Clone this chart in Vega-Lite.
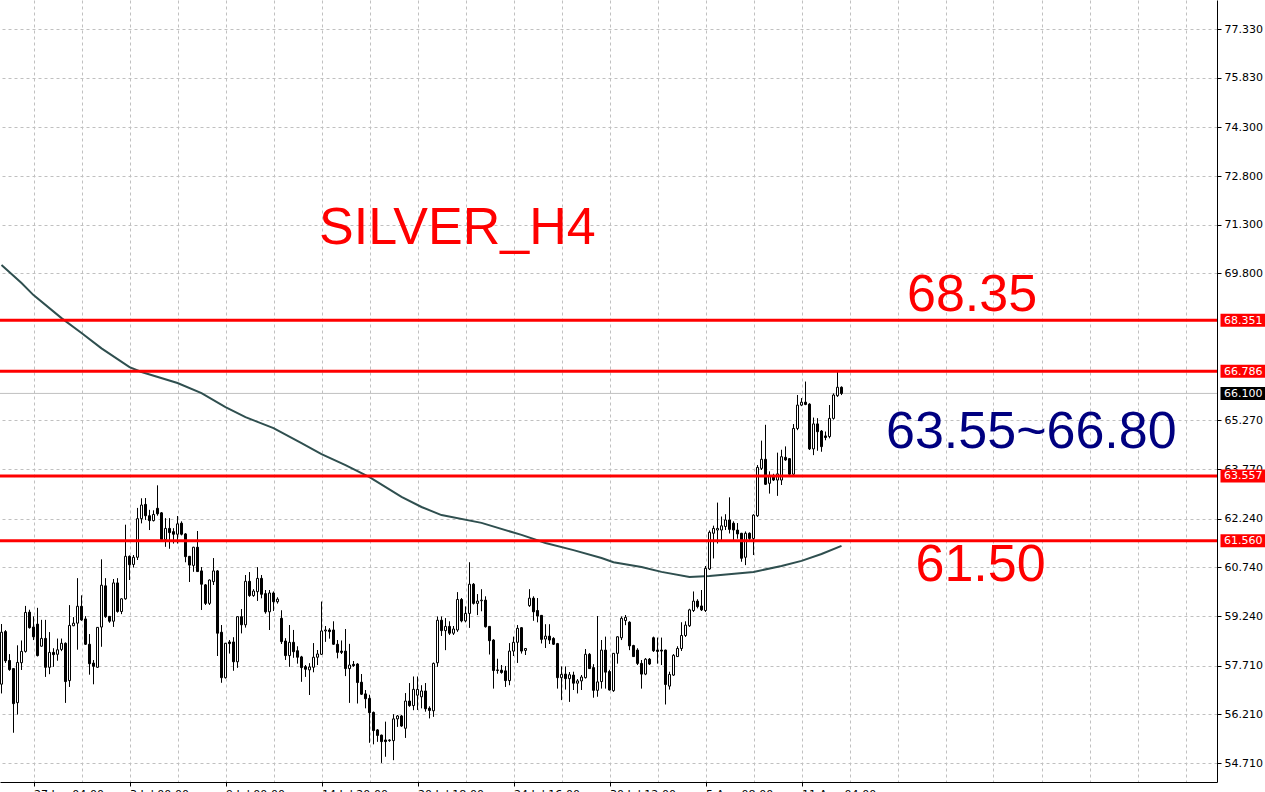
{
  "$schema": "https://vega.github.io/schema/vega-lite/v6.json",
  "width": 1217,
  "height": 782,
  "autosize": {"type": "none"},
  "padding": {"left": 0, "top": 0, "right": 48, "bottom": 10},
  "background": "#ffffff",
  "config": {"view": {"stroke": null}},
  "datasets": {
    "candles": [
      {"i":1,"open":57.14,"high":58.99,"low":56.86,"close":58.74},
      {"i":2,"open":58.76,"high":58.80,"low":57.80,"close":57.86},
      {"i":3,"open":57.87,"high":58.06,"low":57.56,"close":57.59},
      {"i":4,"open":57.62,"high":57.62,"low":55.65,"close":56.54},
      {"i":5,"open":56.57,"high":58.33,"low":56.21,"close":57.81},
      {"i":6,"open":57.80,"high":58.48,"low":57.58,"close":58.15},
      {"i":7,"open":58.15,"high":59.55,"low":58.12,"close":59.35},
      {"i":8,"open":59.36,"high":59.43,"low":58.86,"close":58.88},
      {"i":9,"open":58.90,"high":59.22,"low":58.50,"close":58.60},
      {"i":10,"open":58.99,"high":59.49,"low":58.00,"close":58.02},
      {"i":11,"open":58.31,"high":59.12,"low":58.30,"close":58.55},
      {"i":12,"open":58.55,"high":59.12,"low":57.37,"close":57.66},
      {"i":13,"open":57.66,"high":58.74,"low":57.45,"close":58.12},
      {"i":14,"open":58.12,"high":58.24,"low":57.68,"close":58.05},
      {"i":15,"open":58.06,"high":58.54,"low":57.87,"close":58.20},
      {"i":16,"open":58.21,"high":58.54,"low":58.16,"close":58.40},
      {"i":17,"open":58.40,"high":58.42,"low":56.57,"close":57.22},
      {"i":18,"open":57.25,"high":59.57,"low":57.06,"close":58.95},
      {"i":19,"open":58.94,"high":59.20,"low":58.93,"close":59.02},
      {"i":20,"open":59.02,"high":60.40,"low":58.21,"close":59.54},
      {"i":21,"open":59.54,"high":59.87,"low":59.10,"close":59.12},
      {"i":22,"open":59.15,"high":59.23,"low":58.35,"close":58.37},
      {"i":23,"open":58.37,"high":58.68,"low":57.44,"close":57.77},
      {"i":24,"open":57.79,"high":57.88,"low":57.14,"close":57.69},
      {"i":25,"open":57.66,"high":58.90,"low":57.65,"close":58.89},
      {"i":26,"open":58.90,"high":60.98,"low":58.30,"close":60.19},
      {"i":27,"open":60.17,"high":60.40,"low":59.19,"close":59.22},
      {"i":28,"open":59.23,"high":59.24,"low":59.04,"close":59.08},
      {"i":29,"open":59.08,"high":60.38,"low":58.91,"close":60.26},
      {"i":30,"open":60.26,"high":60.40,"low":59.35,"close":59.38},
      {"i":31,"open":59.38,"high":59.78,"low":59.30,"close":59.77},
      {"i":32,"open":59.77,"high":62.05,"low":59.75,"close":61.08},
      {"i":33,"open":61.08,"high":61.10,"low":60.35,"close":60.82},
      {"i":34,"open":60.83,"high":61.12,"low":60.74,"close":61.05},
      {"i":35,"open":61.05,"high":62.57,"low":60.97,"close":62.24},
      {"i":36,"open":62.24,"high":62.86,"low":62.10,"close":62.66},
      {"i":37,"open":62.68,"high":62.87,"low":62.20,"close":62.33},
      {"i":38,"open":62.33,"high":62.51,"low":61.89,"close":62.18},
      {"i":39,"open":62.18,"high":62.49,"low":62.16,"close":62.37},
      {"i":40,"open":62.56,"high":63.26,"low":62.34,"close":62.39},
      {"i":41,"open":62.42,"high":62.44,"low":61.58,"close":61.60},
      {"i":42,"open":61.60,"high":62.25,"low":61.38,"close":61.94},
      {"i":43,"open":61.94,"high":62.25,"low":61.32,"close":61.81},
      {"i":44,"open":61.84,"high":61.94,"low":61.48,"close":61.76},
      {"i":45,"open":61.76,"high":62.32,"low":61.48,"close":62.08},
      {"i":46,"open":62.10,"high":62.15,"low":61.73,"close":61.76},
      {"i":47,"open":61.77,"high":61.79,"low":60.90,"close":61.07},
      {"i":48,"open":61.08,"high":61.09,"low":60.29,"close":60.81},
      {"i":49,"open":60.80,"high":61.37,"low":60.61,"close":61.36},
      {"i":50,"open":61.36,"high":61.86,"low":60.60,"close":60.61},
      {"i":51,"open":60.63,"high":60.75,"low":59.43,"close":60.22},
      {"i":52,"open":60.20,"high":60.22,"low":59.58,"close":59.63},
      {"i":53,"open":59.63,"high":60.36,"low":59.58,"close":60.35},
      {"i":54,"open":60.30,"high":61.02,"low":60.20,"close":60.63},
      {"i":55,"open":60.63,"high":60.65,"low":58.01,"close":58.71},
      {"i":56,"open":58.74,"high":58.96,"low":57.19,"close":57.34},
      {"i":57,"open":57.34,"high":58.41,"low":57.32,"close":58.40},
      {"i":58,"open":58.44,"high":58.50,"low":58.09,"close":58.39},
      {"i":59,"open":58.44,"high":58.58,"low":57.56,"close":57.83},
      {"i":60,"open":57.83,"high":59.23,"low":57.65,"close":59.22},
      {"i":61,"open":59.22,"high":59.45,"low":58.71,"close":58.97},
      {"i":62,"open":58.97,"high":60.50,"low":58.89,"close":60.31},
      {"i":63,"open":60.31,"high":60.59,"low":59.84,"close":59.87},
      {"i":64,"open":59.87,"high":60.06,"low":59.84,"close":60.01},
      {"i":65,"open":59.99,"high":60.74,"low":59.71,"close":60.40},
      {"i":66,"open":60.40,"high":60.50,"low":59.79,"close":59.91},
      {"i":67,"open":59.93,"high":60.04,"low":59.32,"close":59.37},
      {"i":68,"open":59.37,"high":60.04,"low":58.81,"close":59.95},
      {"i":69,"open":59.95,"high":59.99,"low":59.40,"close":59.68},
      {"i":70,"open":59.68,"high":59.81,"low":59.63,"close":59.76},
      {"i":71,"open":59.17,"high":59.41,"low":58.38,"close":58.45},
      {"i":72,"open":58.47,"high":58.55,"low":57.89,"close":58.02},
      {"i":73,"open":58.02,"high":58.96,"low":57.68,"close":58.43},
      {"i":74,"open":58.43,"high":58.81,"low":57.96,"close":58.14},
      {"i":75,"open":58.17,"high":58.30,"low":57.78,"close":57.97},
      {"i":76,"open":57.98,"high":58.01,"low":57.22,"close":57.65},
      {"i":77,"open":57.68,"high":57.73,"low":57.37,"close":57.60},
      {"i":78,"open":57.58,"high":57.78,"low":56.81,"close":57.67},
      {"i":79,"open":57.66,"high":58.40,"low":57.51,"close":57.97},
      {"i":80,"open":57.97,"high":58.19,"low":57.73,"close":58.07},
      {"i":81,"open":58.06,"high":59.68,"low":58.04,"close":58.78},
      {"i":82,"open":58.78,"high":58.93,"low":58.45,"close":58.81},
      {"i":83,"open":58.81,"high":58.86,"low":58.55,"close":58.76},
      {"i":84,"open":58.81,"high":59.07,"low":58.36,"close":58.37},
      {"i":85,"open":58.37,"high":58.50,"low":57.94,"close":58.12},
      {"i":86,"open":58.16,"high":58.48,"low":58.07,"close":58.12},
      {"i":87,"open":58.16,"high":58.84,"low":57.39,"close":57.62},
      {"i":88,"open":57.62,"high":58.38,"low":56.57,"close":57.73},
      {"i":89,"open":57.75,"high":57.85,"low":57.68,"close":57.71},
      {"i":90,"open":57.76,"high":57.78,"low":56.55,"close":57.19},
      {"i":91,"open":57.20,"high":57.45,"low":56.81,"close":56.83},
      {"i":92,"open":56.84,"high":56.96,"low":56.40,"close":56.69},
      {"i":93,"open":56.70,"high":56.81,"low":55.34,"close":56.26},
      {"i":94,"open":56.27,"high":56.29,"low":55.29,"close":55.71},
      {"i":95,"open":55.73,"high":55.75,"low":55.37,"close":55.56},
      {"i":96,"open":55.57,"high":55.58,"low":54.72,"close":55.37},
      {"i":97,"open":55.42,"high":55.98,"low":54.91,"close":55.37},
      {"i":98,"open":55.40,"high":55.43,"low":55.37,"close":55.42},
      {"i":99,"open":55.40,"high":56.21,"low":54.80,"close":56.07},
      {"i":100,"open":56.07,"high":56.19,"low":55.83,"close":56.16},
      {"i":101,"open":56.16,"high":56.19,"low":55.83,"close":55.85},
      {"i":102,"open":55.78,"high":56.86,"low":55.49,"close":56.62},
      {"i":103,"open":56.62,"high":57.17,"low":56.45,"close":56.48},
      {"i":104,"open":56.48,"high":57.37,"low":56.34,"close":56.98},
      {"i":105,"open":56.80,"high":57.37,"low":56.35,"close":56.98},
      {"i":106,"open":56.75,"high":57.10,"low":56.40,"close":56.93},
      {"i":107,"open":56.93,"high":57.17,"low":56.30,"close":56.38},
      {"i":108,"open":56.40,"high":56.45,"low":56.09,"close":56.33},
      {"i":109,"open":56.32,"high":57.80,"low":56.14,"close":57.78},
      {"i":110,"open":57.80,"high":59.22,"low":57.68,"close":59.11},
      {"i":111,"open":59.11,"high":59.22,"low":58.63,"close":58.79},
      {"i":112,"open":58.79,"high":59.17,"low":58.19,"close":58.92},
      {"i":113,"open":58.92,"high":59.07,"low":58.66,"close":58.71},
      {"i":114,"open":58.71,"high":58.93,"low":58.66,"close":58.84},
      {"i":115,"open":58.81,"high":59.97,"low":58.76,"close":59.75},
      {"i":116,"open":59.75,"high":59.79,"low":59.05,"close":59.09},
      {"i":117,"open":59.09,"high":59.53,"low":59.05,"close":59.32},
      {"i":118,"open":59.32,"high":60.89,"low":58.88,"close":60.22},
      {"i":119,"open":60.22,"high":60.25,"low":59.60,"close":59.63},
      {"i":120,"open":59.63,"high":59.91,"low":59.27,"close":59.70},
      {"i":121,"open":59.71,"high":60.06,"low":59.39,"close":59.73},
      {"i":122,"open":59.73,"high":59.84,"low":58.89,"close":58.91},
      {"i":123,"open":58.92,"high":58.93,"low":58.06,"close":58.48},
      {"i":124,"open":58.50,"high":58.52,"low":57.01,"close":57.56},
      {"i":125,"open":57.56,"high":57.92,"low":57.47,"close":57.58},
      {"i":126,"open":57.57,"high":57.73,"low":57.47,"close":57.50},
      {"i":127,"open":57.55,"high":57.70,"low":57.06,"close":57.25},
      {"i":128,"open":57.25,"high":58.40,"low":57.11,"close":58.16},
      {"i":129,"open":58.16,"high":58.60,"low":58.01,"close":58.43},
      {"i":130,"open":58.43,"high":58.96,"low":57.80,"close":58.86},
      {"i":131,"open":58.88,"high":58.89,"low":58.09,"close":58.16},
      {"i":132,"open":58.18,"high":58.25,"low":58.04,"close":58.24},
      {"i":133,"open":59.56,"high":60.06,"low":59.53,"close":59.79},
      {"i":134,"open":59.79,"high":59.84,"low":59.10,"close":59.37},
      {"i":135,"open":59.41,"high":59.79,"low":59.05,"close":59.24},
      {"i":136,"open":59.26,"high":59.27,"low":58.40,"close":58.52},
      {"i":137,"open":58.53,"high":58.98,"low":58.26,"close":58.62},
      {"i":138,"open":58.62,"high":58.98,"low":58.38,"close":58.50},
      {"i":139,"open":58.55,"high":58.58,"low":58.35,"close":58.37},
      {"i":140,"open":58.39,"high":58.41,"low":57.01,"close":57.34},
      {"i":141,"open":57.34,"high":57.68,"low":56.65,"close":57.44},
      {"i":142,"open":57.45,"high":57.68,"low":56.98,"close":57.31},
      {"i":143,"open":57.31,"high":57.51,"low":56.60,"close":57.43},
      {"i":144,"open":57.42,"high":57.52,"low":56.96,"close":57.17},
      {"i":145,"open":57.17,"high":57.29,"low":56.86,"close":57.24},
      {"i":146,"open":57.24,"high":57.42,"low":56.96,"close":57.36},
      {"i":147,"open":57.34,"high":58.22,"low":57.32,"close":58.06},
      {"i":148,"open":58.06,"high":58.09,"low":57.61,"close":57.62},
      {"i":149,"open":57.65,"high":57.75,"low":56.73,"close":56.95},
      {"i":150,"open":56.95,"high":59.24,"low":56.76,"close":57.21},
      {"i":151,"open":57.22,"high":58.50,"low":57.01,"close":58.19},
      {"i":152,"open":58.19,"high":58.60,"low":57.01,"close":57.51},
      {"i":153,"open":57.53,"high":57.58,"low":56.95,"close":56.96},
      {"i":154,"open":56.94,"high":58.10,"low":56.91,"close":58.09},
      {"i":155,"open":58.09,"high":58.61,"low":57.78,"close":58.60},
      {"i":156,"open":58.57,"high":59.22,"low":58.50,"close":59.17},
      {"i":157,"open":59.10,"high":59.27,"low":58.96,"close":59.20},
      {"i":158,"open":59.05,"high":59.07,"low":58.19,"close":58.32},
      {"i":159,"open":58.33,"high":58.35,"low":57.98,"close":57.99},
      {"i":160,"open":58.19,"high":58.24,"low":57.73,"close":57.78},
      {"i":161,"open":57.78,"high":57.88,"low":57.01,"close":57.45},
      {"i":162,"open":57.45,"high":57.94,"low":57.42,"close":57.91},
      {"i":163,"open":57.91,"high":57.94,"low":57.73,"close":57.76},
      {"i":164,"open":58.57,"high":58.60,"low":58.14,"close":58.17},
      {"i":165,"open":58.19,"high":58.57,"low":57.78,"close":58.15},
      {"i":166,"open":58.19,"high":58.57,"low":57.73,"close":58.16},
      {"i":167,"open":58.19,"high":58.20,"low":56.52,"close":57.13},
      {"i":168,"open":57.08,"high":57.52,"low":56.98,"close":57.44},
      {"i":169,"open":57.42,"high":58.06,"low":57.40,"close":58.03},
      {"i":170,"open":57.99,"high":58.30,"low":57.98,"close":58.24},
      {"i":171,"open":58.24,"high":59.04,"low":58.17,"close":58.64},
      {"i":172,"open":58.64,"high":59.07,"low":58.60,"close":58.96},
      {"i":173,"open":58.94,"high":59.46,"low":58.91,"close":59.43},
      {"i":174,"open":59.41,"high":59.99,"low":59.37,"close":59.70},
      {"i":175,"open":59.70,"high":59.75,"low":59.48,"close":59.53},
      {"i":176,"open":59.55,"high":60.04,"low":59.40,"close":59.43},
      {"i":177,"open":59.41,"high":60.78,"low":59.37,"close":60.71},
      {"i":178,"open":60.69,"high":61.87,"low":60.66,"close":61.82},
      {"i":179,"open":61.79,"high":62.02,"low":61.02,"close":61.94},
      {"i":180,"open":61.89,"high":62.73,"low":61.48,"close":61.94},
      {"i":181,"open":61.89,"high":62.30,"low":61.58,"close":62.02},
      {"i":182,"open":62.00,"high":62.37,"low":61.89,"close":62.20},
      {"i":183,"open":62.20,"high":62.89,"low":61.79,"close":61.91},
      {"i":184,"open":62.10,"high":62.15,"low":61.58,"close":61.89},
      {"i":185,"open":61.89,"high":62.10,"low":61.63,"close":61.77},
      {"i":186,"open":61.79,"high":61.80,"low":60.92,"close":61.02},
      {"i":187,"open":61.05,"high":61.84,"low":60.81,"close":61.79},
      {"i":188,"open":61.79,"high":61.81,"low":61.58,"close":61.63},
      {"i":189,"open":61.63,"high":62.37,"low":61.12,"close":62.35},
      {"i":190,"open":62.33,"high":63.89,"low":62.30,"close":63.82},
      {"i":191,"open":63.79,"high":64.64,"low":63.74,"close":64.07},
      {"i":192,"open":64.07,"high":65.13,"low":63.28,"close":63.30},
      {"i":193,"open":63.33,"high":63.69,"low":63.02,"close":63.56},
      {"i":194,"open":63.56,"high":63.62,"low":63.40,"close":63.43},
      {"i":195,"open":63.43,"high":64.27,"low":62.95,"close":63.62},
      {"i":196,"open":63.43,"high":64.36,"low":63.28,"close":64.15},
      {"i":197,"open":64.13,"high":64.46,"low":64.03,"close":64.05},
      {"i":198,"open":64.09,"high":64.10,"low":63.59,"close":63.61},
      {"i":199,"open":63.61,"high":65.15,"low":63.59,"close":65.02},
      {"i":200,"open":65.02,"high":66.05,"low":64.97,"close":65.74},
      {"i":201,"open":65.74,"high":65.95,"low":65.71,"close":65.83},
      {"i":202,"open":65.83,"high":66.46,"low":65.74,"close":65.76},
      {"i":203,"open":65.77,"high":65.79,"low":64.36,"close":64.39},
      {"i":204,"open":64.39,"high":65.35,"low":64.20,"close":65.16},
      {"i":205,"open":65.16,"high":65.33,"low":64.34,"close":64.92},
      {"i":206,"open":64.94,"high":64.97,"low":64.31,"close":64.46},
      {"i":207,"open":64.79,"high":64.92,"low":64.66,"close":64.74},
      {"i":208,"open":64.77,"high":65.74,"low":64.72,"close":65.33},
      {"i":209,"open":65.33,"high":66.10,"low":65.30,"close":66.05},
      {"i":210,"open":66.03,"high":66.78,"low":66.00,"close":66.29},
      {"i":211,"open":66.29,"high":66.31,"low":66.05,"close":66.10}
    ],
    "ma": [
      {"i":1,"ma":70.06},{"i":6,"ma":69.50},{"i":9,"ma":69.13},{"i":16,"ma":68.42},
      {"i":21,"ma":67.96},{"i":26,"ma":67.49},{"i":33,"ma":66.91},{"i":36,"ma":66.76},
      {"i":45,"ma":66.42},{"i":51,"ma":66.11},{"i":57,"ma":65.68},{"i":62,"ma":65.37},
      {"i":69,"ma":65.03},{"i":76,"ma":64.57},{"i":81,"ma":64.23},{"i":87,"ma":63.89},
      {"i":93,"ma":63.52},{"i":101,"ma":62.91},{"i":106,"ma":62.60},{"i":111,"ma":62.35},
      {"i":121,"ma":62.11},{"i":131,"ma":61.74},{"i":137,"ma":61.49},{"i":144,"ma":61.27},
      {"i":151,"ma":61.03},{"i":154,"ma":60.90},{"i":161,"ma":60.75},{"i":166,"ma":60.60},
      {"i":173,"ma":60.44},{"i":178,"ma":60.47},{"i":189,"ma":60.60},{"i":196,"ma":60.78},
      {"i":201,"ma":60.94},{"i":206,"ma":61.15},{"i":211,"ma":61.40}
    ],
    "tags": [
      {"level":68.351,"kind":"level"},
      {"level":66.786,"kind":"level"},
      {"level":63.557,"kind":"level"},
      {"level":61.56,"kind":"level"},
      {"level":66.1,"kind":"bid"}
    ],
    "notes": [
      {"text":"SILVER_H4","i":80.4,"price":70.70,"kind":"title"},
      {"text":"68.35","i":227.375,"price":68.649,"kind":"level"},
      {"text":"63.55~66.80","i":222.125,"price":64.408,"kind":"range"},
      {"text":"61.50","i":229.5,"price":60.328,"kind":"level"}
    ]
  },
  "layer": [
    {
      "data": {"name": "candles"},
      "mark": {"type": "rule", "color": "#000000", "strokeWidth": 1},
      "encoding": {
        "x": {
          "field": "i", "type": "quantitative", "title": null,
          "scale": {"domain": [0.625, 304.875], "nice": false, "zero": false, "padding": 0},
          "axis": {
            "title": null,
            "values": [9,21,33,45,57,69,81,93,105,117,129,141,153,165,177,189,201,213,225,237,249,261,273,285,297],
            "grid": true, "gridColor": "#c0c0c0", "gridDash": [3, 3], "gridWidth": 1,
            "domain": true, "domainColor": "#000000", "domainWidth": 1,
            "ticks": true, "tickColor": "#000000", "tickSize": 4,
            "tickOpacity": {"condition": {"test": "(datum.value - 9) % 24 == 0 && datum.value <= 201", "value": 1}, "value": 0},
            "labelExpr": "(datum.value - 9) % 24 == 0 && datum.value <= 201 ? ['27 Jun 04:00','3 Jul 00:00','9 Jul 00:00','14 Jul 20:00','20 Jul 18:00','24 Jul 16:00','30 Jul 12:00','5 Aug 08:00','11 Aug 04:00'][(datum.value - 9) / 24] : ''",
            "labelAlign": "left", "labelBaseline": "top", "labelPadding": 2,
            "labelFont": "DejaVu Sans", "labelFontSize": 11, "labelColor": "#000000",
            "labelOverlap": false, "labelBound": false, "labelFlush": false
          }
        },
        "y": {
          "field": "low", "type": "quantitative", "title": null,
          "scale": {"domain": [54.125, 78.224], "nice": false, "zero": false},
          "axis": {
            "title": null, "orient": "right",
            "values": [54.71, 56.21, 57.71, 59.24, 60.74, 62.24, 63.77, 65.27, 69.8, 71.3, 72.8, 74.3, 75.83, 77.33],
            "format": ".3f",
            "grid": true, "gridColor": "#c0c0c0", "gridDash": [3, 3], "gridWidth": 1,
            "domain": true, "domainColor": "#000000", "domainWidth": 1,
            "ticks": true, "tickColor": "#000000", "tickSize": 4,
            "labelPadding": 3, "labelFont": "DejaVu Sans", "labelFontSize": 11, "labelColor": "#000000",
            "labelOverlap": false, "labelBound": false, "labelFlush": false
          }
        },
        "y2": {"field": "high"}
      }
    },
    {
      "data": {"name": "tags"},
      "transform": [{"filter": "datum.kind == 'bid'"}],
      "mark": {"type": "rule", "color": "#c0c0c0", "strokeWidth": 1},
      "encoding": {
        "y": {"field": "level", "type": "quantitative", "title": null, "scale": {"domain": [54.125, 78.224], "nice": false, "zero": false}}
      }
    },
    {
      "data": {"name": "ma"},
      "mark": {"type": "line", "color": "#2f4f4f", "strokeWidth": 2},
      "encoding": {
        "x": {"field": "i", "type": "quantitative", "title": null, "scale": {"domain": [0.625, 304.875], "nice": false, "zero": false, "padding": 0}},
        "y": {"field": "ma", "type": "quantitative", "title": null, "scale": {"domain": [54.125, 78.224], "nice": false, "zero": false}}
      }
    },
    {
      "data": {"name": "candles"},
      "mark": {"type": "rule", "color": "#000000", "strokeWidth": 1},
      "encoding": {
        "x": {"field": "i", "type": "quantitative", "title": null, "scale": {"domain": [0.625, 304.875], "nice": false, "zero": false, "padding": 0}},
        "y": {"field": "low", "type": "quantitative", "title": null, "scale": {"domain": [54.125, 78.224], "nice": false, "zero": false}},
        "y2": {"field": "high"}
      }
    },
    {
      "data": {"name": "candles"},
      "mark": {"type": "bar", "orient": "vertical", "size": 2, "stroke": "#000000", "strokeWidth": 1},
      "encoding": {
        "x": {"field": "i", "type": "quantitative", "title": null, "scale": {"domain": [0.625, 304.875], "nice": false, "zero": false, "padding": 0}},
        "y": {"field": "open", "type": "quantitative", "title": null, "scale": {"domain": [54.125, 78.224], "nice": false, "zero": false}},
        "y2": {"field": "close"},
        "fill": {"condition": {"test": "datum.close > datum.open", "value": "#ffffff"}, "value": "#000000"}
      }
    },
    {
      "data": {"name": "tags"},
      "transform": [{"filter": "datum.kind == 'level'"}],
      "mark": {"type": "rule", "color": "#ff0000", "strokeWidth": 3},
      "encoding": {
        "y": {"field": "level", "type": "quantitative", "title": null, "scale": {"domain": [54.125, 78.224], "nice": false, "zero": false}}
      }
    },
    {
      "data": {"name": "tags"},
      "mark": {"type": "tick", "orient": "horizontal", "size": 45, "thickness": 13, "opacity": 1},
      "encoding": {
        "x": {"datum": 311.375, "type": "quantitative"},
        "y": {"field": "level", "type": "quantitative", "title": null, "scale": {"domain": [54.125, 78.224], "nice": false, "zero": false}},
        "color": {"condition": {"test": "datum.kind == 'bid'", "value": "#000000"}, "value": "#ff0000"}
      }
    },
    {
      "data": {"name": "tags"},
      "mark": {"type": "text", "align": "left", "baseline": "middle", "font": "DejaVu Sans", "fontSize": 11, "color": "#ffffff", "dy": 0.5},
      "encoding": {
        "x": {"datum": 306.625, "type": "quantitative"},
        "y": {"field": "level", "type": "quantitative", "title": null, "scale": {"domain": [54.125, 78.224], "nice": false, "zero": false}},
        "text": {"field": "level", "type": "quantitative", "format": ".3f"}
      }
    },
    {
      "data": {"name": "notes"},
      "mark": {"type": "text", "align": "left", "baseline": "alphabetic", "font": "Liberation Sans", "fontSize": 52},
      "encoding": {
        "x": {"field": "i", "type": "quantitative", "title": null, "scale": {"domain": [0.625, 304.875], "nice": false, "zero": false, "padding": 0}},
        "y": {"field": "price", "type": "quantitative", "title": null, "scale": {"domain": [54.125, 78.224], "nice": false, "zero": false}},
        "text": {"field": "text", "type": "nominal"},
        "color": {"field": "kind", "type": "nominal", "scale": {"domain": ["title", "level", "range"], "range": ["#ff0000", "#ff0000", "#000080"]}, "legend": null}
      }
    }
  ]
}
